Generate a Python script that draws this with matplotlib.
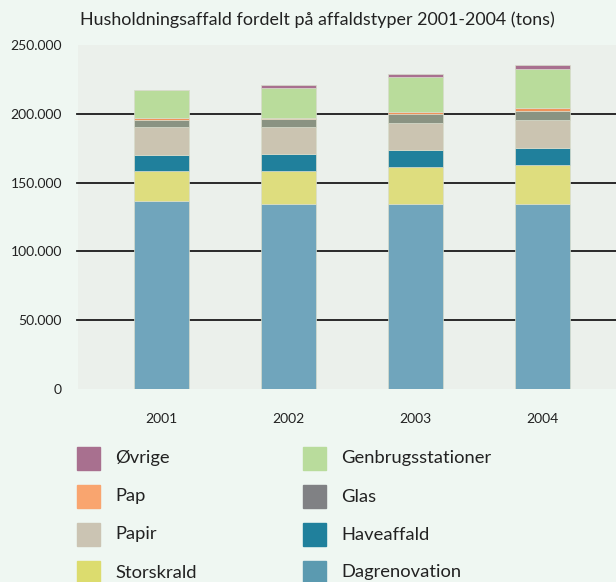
import matplotlib
matplotlib.use("Agg")
import matplotlib.pyplot as plt
import numpy as np

years = ["2001", "2002", "2003", "2004"]
# Values in tons, bottom to top
dagrenovation = [136300, 134800, 134800, 134800]
storskrald = [22050, 23550, 26500, 28000]
haveaffald = [12000, 12750, 12700, 12000]
papir = [19850, 19100, 19400, 21000]
glas = [5600, 6100, 6100, 6200]
pap = [1500, 1000, 1500, 1900]
genbrug = [19850, 21300, 25700, 28400]
oevrige = [0, 2200, 2200, 3200]

series = [
    ("Dagrenovation", dagrenovation, "#70a5bc", "#5b9ab0"),
    ("Storskrald", storskrald, "#dedd7e", "#dcdc6e"),
    ("Haveaffald", haveaffald, "#20809c", "#20809c"),
    ("Papir", papir, "#cbc4b1", "#cbc4b3"),
    ("Glas", glas, "#8a9382", "#808184"),
    ("Pap", pap, "#f0925a", "#f9a56f"),
    ("Genbrugsstationer", genbrug, "#b9dc9b", "#b9dc9c"),
    ("Øvrige", oevrige, "#a8708f", "#a8708f"),
]

yticks = [0, 50000, 100000, 150000, 200000, 250000]
ytick_labels = ["0", "50.000", "100.000", "150.000", "200.000", "250.000"]

plt.rcParams['font.family'] = ['Lato', 'DejaVu Sans']

fig = plt.figure(figsize=(6.16, 5.82), dpi=100)
fig.patch.set_facecolor("#eff7f2")
W, H = 616, 582
ax = fig.add_axes([78 / W, 1 - 389 / H, (616 - 78) / W, (389 - 45) / H])
ax.set_facecolor("#ebf0eb")

x = np.arange(len(years))
bottom = np.zeros(len(years))
for name, vals, col, _ in series:
    v = np.array(vals, dtype=float)
    ax.bar(x, v, bottom=bottom, width=0.433, color=col, edgecolor="#d8dccb",
           linewidth=0.5, zorder=3)
    bottom += v

for t in yticks[1:-1]:
    ax.axhline(t, color="#1a1a1a", lw=1.3, zorder=1, xmin=-0.002, clip_on=False)

ax.set_xlim(-0.657, 3.579)
ax.set_ylim(0, 250000)
ax.set_yticks(yticks)
ax.set_yticklabels(ytick_labels, fontsize=10, color="#222222")
ax.set_xticks(x)
ax.set_xticklabels(years, fontsize=10, color="#222222")
ax.tick_params(axis="y", length=0, pad=11.5)
ax.tick_params(axis="x", length=0, pad=17)
for s in ax.spines.values():
    s.set_visible(False)

fig.text(80 / W, 1 - 20 / H, "Husholdningsaffald fordelt på affaldstyper 2001-2004 (tons)",
         fontsize=12.9, color="#222222", va="center", ha="left")

# Legend (two columns)
legend_order = [
    ("Øvrige", 0, 0), ("Pap", 0, 1), ("Papir", 0, 2), ("Storskrald", 0, 3),
    ("Genbrugsstationer", 1, 0), ("Glas", 1, 1), ("Haveaffald", 1, 2), ("Dagrenovation", 1, 3),
]
leg_colors = {name: lc for name, _, _, lc in series}
col_x = [77, 303]
row_y = [458.5, 496.5, 534.5, 572.5]
for name, c, r in legend_order:
    sx = col_x[c]
    sy = row_y[r]
    fig.patches.append(plt.Rectangle((sx / W, 1 - (sy + 11.5) / H), 23 / W, 23 / H,
                                     transform=fig.transFigure, color=leg_colors[name]))
    fig.text((sx + 38) / W, 1 - sy / H, name, fontsize=13.2, color="#222222",
             va="center", ha="left")

fig.savefig("out.png", dpi=100, facecolor=fig.get_facecolor())
